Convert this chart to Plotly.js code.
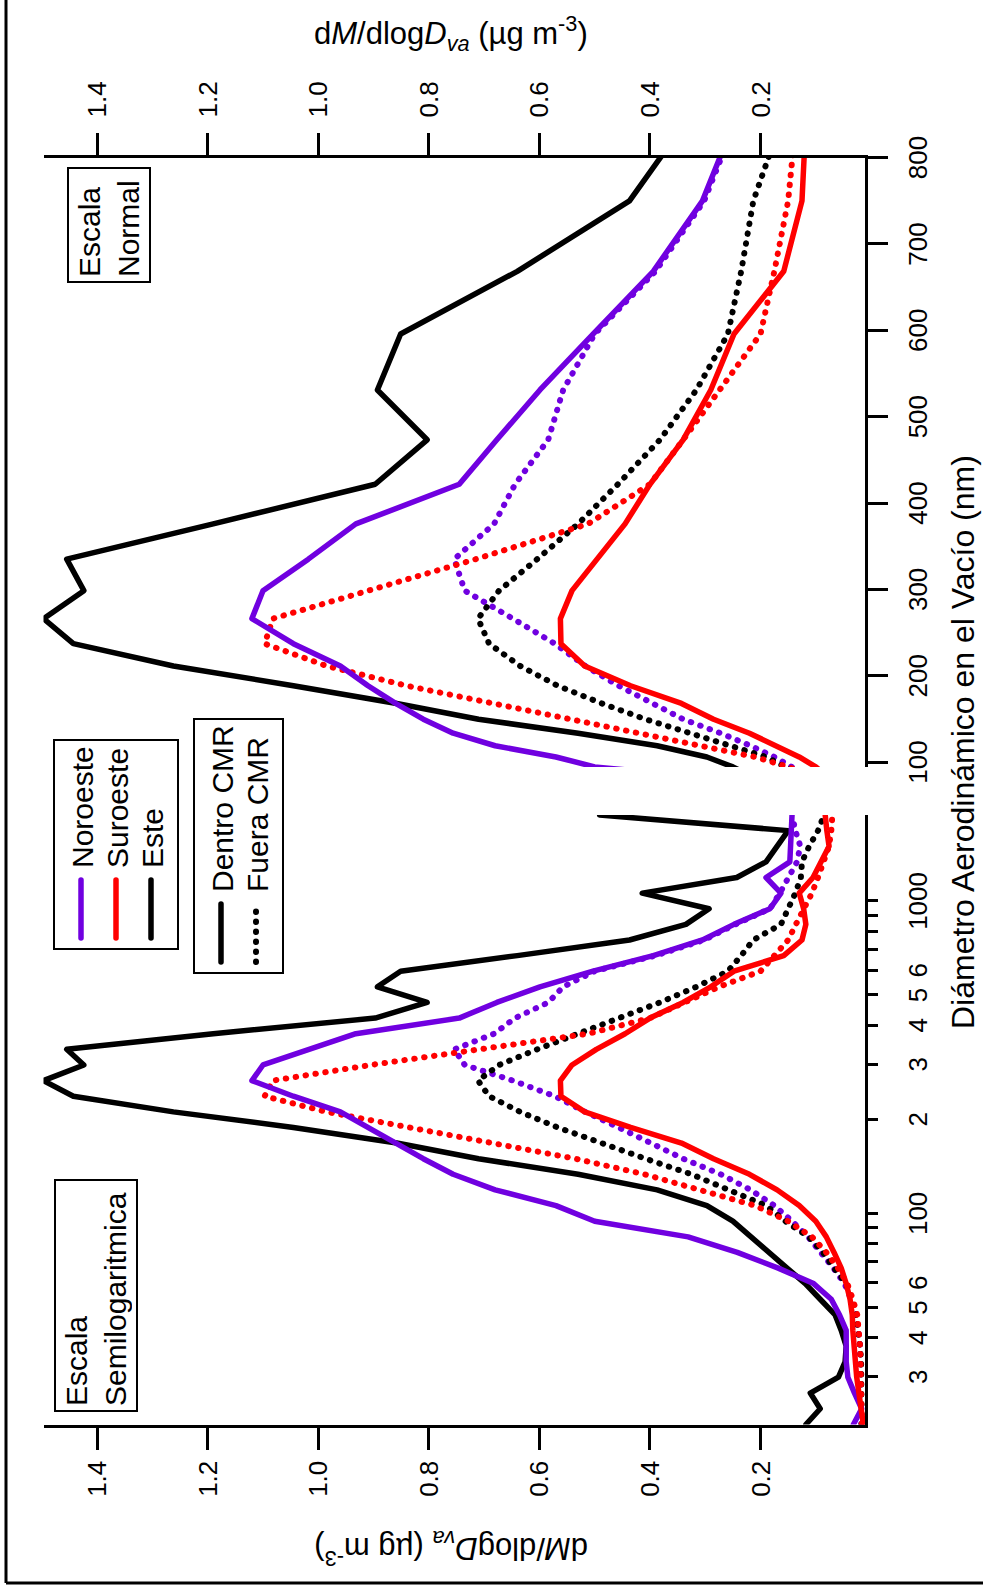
<!DOCTYPE html>
<html><head><meta charset="utf-8">
<script src="https://cdn.plot.ly/plotly-3.0.1.min.js"></script>
<style>
html,body{margin:0;padding:0;background:#fff;}
body{width:983px;height:1589px;overflow:hidden;position:relative;}
#wrap{position:absolute;left:0;top:0;width:1589px;height:983px;transform-origin:0 0;transform:translateY(1589px) rotate(-90deg);}
#plot{width:1589px;height:983px;}
.js-line{stroke-linecap:round;stroke-linejoin:round;}
</style></head><body>
<div id="wrap"><div id="plot"></div></div>
<script>
// Aerodynamic vacuum diameter bins (nm)
const diam = [21.1, 23.7, 26.6, 29.9, 33.5, 37.6, 42.2, 47.3, 53.1, 59.6, 66.8, 75.0, 84.1, 94.4, 105.9, 118.9, 133.4, 149.6, 167.9, 188.4, 211.3, 237.1, 266.1, 298.5, 335.0, 375.8, 421.7, 473.2, 530.9, 595.7, 668.3, 749.9, 841.4, 944.1, 1059.3, 1188.5, 1333.5, 1496.2, 1678.8, 1883.6];

// dM/dlogDva (ug m-3)
const noroesteDentro = [0.032,0.017,0.030,0.042,0.045,0.045,0.045,0.057,0.072,0.104,0.168,0.242,0.331,0.50,0.57,0.68,0.756,0.81,0.86,0.91,0.96,1.045,1.12,1.10,1.018,0.932,0.745,0.677,0.599,0.503,0.394,0.305,0.248,0.183,0.163,0.19,0.147,0.145,0.145,0.143];
const suroesteDentro = [0.014,0.017,0.022,0.026,0.029,0.031,0.033,0.034,0.038,0.045,0.054,0.067,0.081,0.10,0.13,0.17,0.22,0.285,0.343,0.435,0.518,0.561,0.562,0.541,0.497,0.445,0.40,0.34,0.29,0.248,0.158,0.125,0.118,0.122,0.13,0.105,0.09,0.076,0.08,0.083];
const esteDentro = [0.118,0.092,0.110,0.059,0.047,0.045,0.054,0.065,0.092,0.119,0.152,0.186,0.218,0.25,0.297,0.387,0.53,0.71,0.858,1.045,1.262,1.443,1.497,1.424,1.455,1.19,0.897,0.803,0.893,0.851,0.64,0.437,0.335,0.293,0.414,0.243,0.19,0.17,0.15,0.491];
const noroesteFuera = [0.018,0.018,0.018,0.018,0.019,0.02,0.023,0.028,0.036,0.048,0.068,0.09,0.114,0.143,0.175,0.218,0.272,0.34,0.396,0.457,0.517,0.572,0.648,0.735,0.754,0.682,0.644,0.584,0.557,0.50,0.39,0.302,0.245,0.183,0.165,0.15,0.134,0.128,0.137,0.143];
const suroesteFuera = [0.017,0.017,0.017,0.018,0.019,0.02,0.022,0.025,0.033,0.043,0.06,0.081,0.107,0.15,0.21,0.31,0.41,0.535,0.685,0.84,0.985,1.097,1.082,0.905,0.715,0.512,0.40,0.34,0.275,0.20,0.175,0.15,0.136,0.12,0.107,0.096,0.085,0.076,0.072,0.07];
const esteFuera = [0.017,0.017,0.017,0.017,0.018,0.02,0.023,0.027,0.036,0.045,0.067,0.087,0.113,0.155,0.19,0.255,0.325,0.408,0.487,0.567,0.635,0.691,0.711,0.673,0.604,0.53,0.458,0.382,0.316,0.259,0.235,0.213,0.163,0.15,0.137,0.127,0.125,0.112,0.096,0.085];

// Tick labels
const logTickVals = [30, 40, 50, 60, 100, 200, 300, 400, 500, 600, 1000];
const logTickText = ["3", "4", "5", "6", "100", "2", "3", "4", "5", "6", "1000"];
const logMinorVals = [70, 80, 90, 700, 800, 900];
const logMajorVals = [100, 1000];
const linTickVals = [100, 200, 300, 400, 500, 600, 700, 800];
const dmTickVals = [0.2, 0.4, 0.6, 0.8, 1.0, 1.2, 1.4];

const PURPLE = '#7000e0', RED = '#ff0000', BLACK = '#000000';
const DOT = '0.5px,9.5px';
const FONT = 'Liberation Sans, Arial, sans-serif';

function tr(y, color, dash, xa, ya, opts) {
  return Object.assign({
    type: 'scatter', mode: 'lines', x: diam, y: y, xaxis: xa, yaxis: ya,
    line: {color: color, width: dash === 'solid' ? 5.5 : 6, dash: dash}, showlegend: false, hoverinfo: 'skip'
  }, opts || {});
}

const data = [
  // left panel (semilog)
  tr(noroesteFuera, PURPLE, DOT, 'x', 'y'),
  tr(esteFuera, BLACK, DOT, 'x', 'y'),
  tr(suroesteFuera, RED, DOT, 'x', 'y'),
  tr(esteDentro, BLACK, 'solid', 'x', 'y', {name: 'Este', showlegend: true, legend: 'legend', legendrank: 3}),
  tr(noroesteDentro, PURPLE, 'solid', 'x', 'y', {name: 'Noroeste', showlegend: true, legend: 'legend', legendrank: 1}),
  tr(suroesteDentro, RED, 'solid', 'x', 'y', {name: 'Suroeste', showlegend: true, legend: 'legend', legendrank: 2}),
  // right panel (linear)
  tr(noroesteFuera, PURPLE, DOT, 'x2', 'y2'),
  tr(esteFuera, BLACK, DOT, 'x2', 'y2', {name: 'Fuera CMR', showlegend: true, legend: 'legend2', legendrank: 2}),
  tr(suroesteFuera, RED, DOT, 'x2', 'y2'),
  tr(esteDentro, BLACK, 'solid', 'x2', 'y2', {name: 'Dentro CMR', showlegend: true, legend: 'legend2', legendrank: 1}),
  tr(noroesteDentro, PURPLE, 'solid', 'x2', 'y2'),
  tr(suroesteDentro, RED, 'solid', 'x2', 'y2')
];

const W = 1589, H = 983;
const px = u => u / W;      // horizontal pixel -> paper
const py = v => 1 - v / H;  // vertical pixel (from top) -> paper

const axCommon = {
  showline: true, linewidth: 3, linecolor: BLACK, ticks: 'outside', tickwidth: 3, tickcolor: BLACK,
  showgrid: false, zeroline: false, automargin: false, tickfont: {family: FONT, size: 26, color: BLACK}
};
const logRange = [Math.log10(diam[0]), Math.log10(diam[diam.length - 1])];
const dmRange = [0.011, 1.497];
const yDomain = [py(865), py(43.5)];
const yTitle = 'd<i>M</i>/dlog<i>D</i><sub><i>va</i></sub> (µg m<sup>-3</sup>)';

const layout = {
  width: W, height: H, margin: {l: 0, r: 0, t: 0, b: 0},
  paper_bgcolor: '#fff', plot_bgcolor: 'rgba(0,0,0,0)',
  font: {family: FONT, color: BLACK},
  xaxis: Object.assign({}, axCommon, {
    type: 'log', range: logRange, domain: [px(164.5), px(774)], anchor: 'y',
    tickmode: 'array', tickvals: logTickVals, ticktext: logTickText, ticklen: 10, ticklabelstandoff: 18,
    minor: {tickmode: 'array', tickvals: logMinorVals, ticks: 'outside', ticklen: 10, tickwidth: 3, tickcolor: BLACK, showgrid: false}
  }),
  xaxis3: {
    type: 'log', range: logRange, overlaying: 'x', anchor: 'y', showline: false, showgrid: false, zeroline: false,
    ticks: 'outside', ticklen: 20, tickwidth: 3, tickcolor: BLACK, tickmode: 'array', tickvals: logMajorVals,
    showticklabels: false, automargin: false
  },
  yaxis: Object.assign({}, axCommon, {
    range: dmRange, domain: yDomain, anchor: 'x', side: 'left',
    tickmode: 'array', tickvals: dmTickVals, tickformat: '.1f', ticklen: 22, ticklabelstandoff: 6
  }),
  xaxis2: Object.assign({}, axCommon, {
    range: [diam[13], 800], domain: [px(822.1), px(1431.4)], anchor: 'y2',
    tickmode: 'array', tickvals: linTickVals, ticklen: 20, ticklabelstandoff: 8
  }),
  yaxis2: Object.assign({}, axCommon, {
    range: dmRange, domain: yDomain, anchor: 'x2', side: 'right',
    tickmode: 'array', tickvals: dmTickVals, tickformat: '.1f', ticklen: 22, ticklabelstandoff: 10
  }),
  legend: {
    x: px(639), y: py(53), xanchor: 'left', yanchor: 'top', bordercolor: BLACK, borderwidth: 2,
    bgcolor: 'rgba(0,0,0,0)', font: {family: FONT, size: 30, color: BLACK}, itemwidth: 70, traceorder: 'normal'
  },
  legend2: {
    x: px(615), y: py(193), xanchor: 'left', yanchor: 'top', bordercolor: BLACK, borderwidth: 2,
    bgcolor: 'rgba(0,0,0,0)', font: {family: FONT, size: 30, color: BLACK}, itemwidth: 70, traceorder: 'normal'
  },
  annotations: [
    {text: 'Escala<br>Semilogaritmica', xref: 'paper', yref: 'paper', x: px(177), y: py(54), xanchor: 'left', yanchor: 'top',
     align: 'left', showarrow: false, bordercolor: BLACK, borderwidth: 2, borderpad: 4, width: 221, font: {size: 30}},
    {text: 'Escala<br>Normal', xref: 'paper', yref: 'paper', x: px(1306), y: py(67), xanchor: 'left', yanchor: 'top',
     align: 'left', showarrow: false, bordercolor: BLACK, borderwidth: 2, borderpad: 4, width: 104, font: {size: 30}},
    {text: yTitle, xref: 'paper', yref: 'paper',
     x: px(40), y: py(451), xanchor: 'center', yanchor: 'middle', textangle: -90, showarrow: false, font: {size: 31}},
    {text: yTitle, xref: 'paper', yref: 'paper',
     x: px(1556), y: py(451), xanchor: 'center', yanchor: 'middle', textangle: 90, showarrow: false, font: {size: 31}},
    {text: 'Diámetro Aerodinámico en el Vacío (nm)', xref: 'paper', yref: 'paper',
     x: px(847), y: py(963), xanchor: 'center', yanchor: 'middle', showarrow: false, font: {size: 32}}
  ],
  shapes: [
    {type: 'line', xref: 'paper', yref: 'paper', x0: px(6), x1: 1, y0: py(6), y1: py(6), line: {color: BLACK, width: 3}},
    {type: 'line', xref: 'paper', yref: 'paper', x0: px(6), x1: px(6), y0: 0, y1: py(6), line: {color: BLACK, width: 3}}
  ]
};

function parseT(el) {
  const t = (el && el.getAttribute && el.getAttribute('transform')) || '';
  const m = t.match(/translate\(\s*([-\d.e]+)[ ,]+([-\d.e]+)\s*\)/);
  return m ? [parseFloat(m[1]), parseFloat(m[2])] : [0, 0];
}

Plotly.newPlot('plot', data, layout, {staticPlot: true, displayModeBar: false}).then(gd => {
  // Igor-style legend keys: longer line samples and tighter rows (applies to every legend box)
  const legends = Array.from(gd.querySelectorAll('.infolayer > g')).filter(g => /(^|\s)legend\d*(\s|$)/.test(g.getAttribute('class') || ''));
  legends.forEach(lg => {
    const items = Array.from(lg.querySelectorAll('g.traces'));
    if (!items.length) return;
    const ys = items.map(it => parseT(it.parentNode)[1] + parseT(it)[1]);
    const step = 35;
    let shift = 0;
    items.forEach((it, i) => {
      const want = ys[0] + i * step;
      const t = parseT(it);
      it.setAttribute('transform', 'translate(' + t[0] + ',' + (t[1] + want - ys[i]) + ')');
      shift = ys[i] - want;
    });
    const bg = lg.querySelector('rect.bg');
    if (bg && shift > 0) bg.setAttribute('height', parseFloat(bg.getAttribute('height')) - shift);
    lg.querySelectorAll('.legendlines path').forEach(p => p.setAttribute('d', 'M10,0h58'));
  });
});
</script></body></html>
